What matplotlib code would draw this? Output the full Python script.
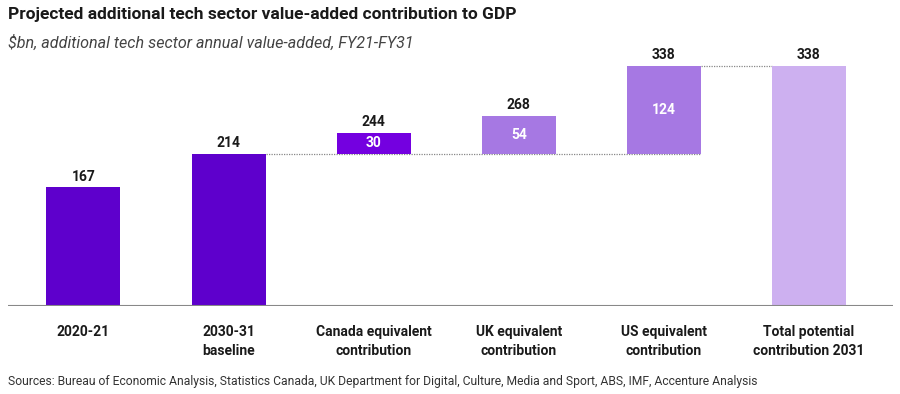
import matplotlib.pyplot as plt

categories = ["2020-21", "2030-31\nbaseline", "Canada equivalent\ncontribution",
              "UK equivalent\ncontribution", "US equivalent\ncontribution",
              "Total potential\ncontribution 2031"]
bottoms = [0, 0, 214, 214, 214, 0]
heights = [167, 214, 30, 54, 124, 338]
top_labels = ["167", "214", "244", "268", "338", "338"]
inner_labels = ["", "", "30", "54", "124", ""]
colors = ["#5e00cc", "#5e00cc", "#7400e0", "#a678e3", "#a678e3", "#cdb0f0"]

plt.rcParams['font.family'] = ['Roboto', 'DejaVu Sans']

fig = plt.figure(figsize=(9, 3.94), dpi=100)
ax = fig.add_axes([8 / 900, 1 - 306 / 394, 885 / 900, 260 / 394])

x = list(range(len(categories)))
ax.bar(x, heights, bottom=bottoms, width=0.51, color=colors, zorder=2)

for i in x:
    top = bottoms[i] + heights[i]
    ax.text(i, top + 5, top_labels[i], ha="center", va="bottom",
            fontsize=10, fontweight="bold", color="#1a1a1a")
    if inner_labels[i]:
        ax.text(i, bottoms[i] + heights[i] / 2, inner_labels[i], ha="center",
                va="center", fontsize=10, fontweight="bold", color="white")

# connector lines
ax.plot([1 + 0.255, 4 + 0.255], [214, 214], ls=(0, (1, 1)), color="#888888",
        lw=0.9, zorder=1)
ax.plot([4 + 0.255, 5 - 0.255], [338, 338], ls=(0, (1, 1)), color="#888888",
        lw=0.9, zorder=1)

ax.set_xlim(-0.52, 5.58)
ax.set_ylim(0, 366)
ax.axhline(0, color="#888888", lw=1.5, zorder=3)
for s in ax.spines.values():
    s.set_visible(False)
ax.set_yticks([])
ax.set_xticks(x)
ax.set_xticklabels(categories, fontsize=10, fontweight="bold", color="#1a1a1a",
                   linespacing=1.45)
ax.tick_params(axis="x", length=0, pad=14)

fig.text(8 / 900, 1 - 14 / 394, "Projected additional tech sector value-added contribution to GDP",
         fontsize=12.5, fontweight="bold", color="#1a1a1a", va="center")
fig.text(8 / 900, 1 - 43 / 394, "$bn, additional tech sector annual value-added, FY21-FY31",
         fontsize=11.6, style="italic", color="#444444", va="center")
fig.text(8 / 900, 1 - 382 / 394,
         "Sources: Bureau of Economic Analysis, Statistics Canada, UK Department for Digital, Culture, Media and Sport, ABS, IMF, Accenture Analysis",
         fontsize=8.7, color="#333333", va="center")

fig.savefig("out.png", dpi=100)
